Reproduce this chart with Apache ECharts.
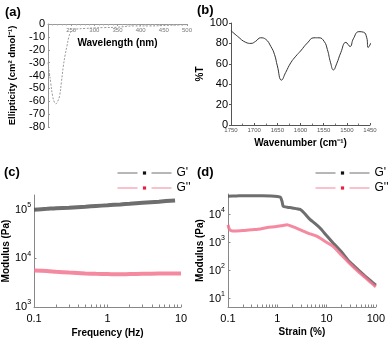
<!DOCTYPE html>
<html><head><meta charset="utf-8">
<script src="https://cdn.jsdelivr.net/npm/echarts@6/dist/echarts.min.js"></script>
<style>html,body{margin:0;padding:0;background:#fff}#c{width:388px;height:339px}</style>
</head><body><div id="c"></div>
<script>
// (a) CD spectrum
const aWavelength = [200, 203, 206, 210, 214, 217, 221, 225, 229, 233, 237, 241, 245, 248, 253, 260, 280, 300, 320, 350, 385, 420, 460, 500];
const aEllipticity = [-30, -38, -46, -56, -61, -62, -60, -56, -45, -33, -24, -17, -10, -7, -5, -4, -3.5, -3, -2.8, -2.5, -1.5, -1.5, -1, -0.5];
// (b) FTIR
const bWavenumber = [1750, 1736, 1718, 1707, 1697, 1686, 1675, 1664, 1656, 1650, 1641, 1632, 1621, 1610, 1600, 1585, 1571, 1560, 1549, 1542, 1535, 1529, 1522, 1513, 1502, 1493, 1486, 1474, 1464, 1457, 1454, 1448];
const bTransmittance = [92.5, 87, 81, 80, 82, 85.5, 84, 77, 69, 58, 44, 51.5, 61, 67.5, 72.5, 80.5, 85.5, 85.5, 82, 74, 61, 54, 60, 71, 81, 77, 84.5, 91.5, 91, 85.5, 76, 80.5];
// (c) frequency sweep
const cFrequency = [0.1, 0.15, 0.2, 0.3, 0.5, 0.7, 1, 1.5, 2, 3, 5, 8.3];
const cGp = [1.0e5, 1.04e5, 1.07e5, 1.1e5, 1.15e5, 1.19e5, 1.23e5, 1.28e5, 1.32e5, 1.38e5, 1.46e5, 1.55e5];
const cFrequency2 = [0.1, 0.15, 0.2, 0.3, 0.5, 0.7, 1, 1.5, 2, 3, 5, 10];
const cGpp = [5.6e3, 5.5e3, 5.3e3, 5.1e3, 4.9e3, 4.8e3, 4.75e3, 4.7e3, 4.75e3, 4.8e3, 4.85e3, 4.9e3];
// (d) strain sweep
const dStrainGp = [0.1, 0.15, 0.22, 0.33, 0.5, 0.75, 1.0, 1.16, 1.25, 1.32, 1.6, 2.0, 2.9, 3.6, 4.6, 5.8, 7.3, 10, 13.6, 20, 29, 42, 63, 80, 100];
const dGp = [4.6e4, 4.7e4, 4.8e4, 4.8e4, 4.8e4, 4.7e4, 4.5e4, 4.2e4, 3.0e4, 2.0e4, 1.85e4, 1.75e4, 1.55e4, 1.1e4, 6.8e3, 4.9e3, 3.4e3, 1.8e3, 980, 470, 210, 115, 60, 42, 30];
const dStrainGpp = [0.1, 0.105, 0.115, 0.14, 0.2, 0.3, 0.45, 0.63, 0.9, 1.2, 1.58, 2.0, 2.9, 4.2, 6.3, 9.4, 13.6, 20, 29, 42, 63, 80, 100];
const dGpp = [4.3e3, 3.2e3, 2.7e3, 2.6e3, 2.7e3, 2.9e3, 3.1e3, 3.5e3, 3.7e3, 4.0e3, 4.4e3, 3.8e3, 2.9e3, 2.2e3, 1.7e3, 1.1e3, 740, 360, 185, 100, 54, 37, 26];
// log-axis tick positions
const cFreqTicks = [0.1,0.2,0.3,0.4,0.5,0.6,0.7,0.8,0.9,1,2,3,4,5,6,7,8,9,10];
const dStrainTicks = [0.1,0.2,0.3,0.4,0.5,0.6,0.7,0.8,0.9,1,2,3,4,5,6,7,8,9,10,20,30,40,50,60,70,80,90,100];
const cModTicks = [1e3, 1e4, 1e5];
const dModTicks = [1e1, 1e2, 1e3, 1e4];

const zip = (xs, ys) => xs.map((x, i) => [x, ys[i]]);
const FF = '"Liberation Sans", Arial, sans-serif';
const logY = v => { const l = Math.log10(v), e = Math.round(l); if (Math.abs(l - e) > 1e-6) return ''; return '{b|10}{s|' + e + '}'; };
const logX = v => { const l = Math.log10(v), e = Math.round(l); if (Math.abs(l - e) > 1e-6) return ''; return String(Number(Math.pow(10, e).toPrecision(3))); };
const richY = { b: { fontSize: 11, fontFamily: FF, color: '#000', lineHeight: 16 }, s: { fontSize: 7, fontFamily: FF, color: '#000', lineHeight: 6, verticalAlign: 'top' } };
const nameStyle = { fontWeight: 'bold', fontSize: 10, color: '#000', fontFamily: FF };
const gpCol = '#555555', gppCol = '#f2748f';
const legendText = { fontSize: 12, color: '#000', fontFamily: FF, lineHeight: 14 };
const legData = [
  { name: "G'", itemStyle: { color: '#111', borderWidth: 0 }, lineStyle: { color: '#555', width: 1, type: [20, 14] } },
  { name: "G''", itemStyle: { color: '#e8203f', borderWidth: 0 }, lineStyle: { color: '#f0708c', width: 1, type: [20, 14] } }
];

const chart = echarts.init(document.getElementById('c'), null, { renderer: 'canvas' });
chart.setOption({
  animation: false,
  textStyle: { fontFamily: FF },
  grid: [
    { left: 48, top: 24, width: 139, height: 103 },
    { left: 231, top: 23, width: 139, height: 102 },
    { left: 31, top: 195, width: 150, height: 112 },
    { left: 228, top: 194, width: 150, height: 113 }
  ],
  xAxis: [
    { gridIndex: 0, type: 'value', position: 'top', min: 200, max: 500, interval: 50,
      axisLine: { lineStyle: { color: '#999' } }, axisTick: { inside: true, length: 2, lineStyle: { color: '#999' } },
      minorTick: { show: true, splitNumber: 5, length: 1.5, lineStyle: { color: '#aaa' } },
      axisLabel: { inside: true, fontSize: 6, color: '#777', margin: 3, showMinLabel: false },
      splitLine: { show: false },
      name: 'Wavelength (nm)', nameLocation: 'middle', nameGap: -24, nameTextStyle: nameStyle },
    { gridIndex: 1, type: 'value', inverse: true, min: 1450, max: 1750, interval: 50,
      axisLine: { lineStyle: { color: '#555' } }, axisTick: { inside: true, length: 2, lineStyle: { color: '#555' } },
      minorTick: { show: true, splitNumber: 2, length: 1.5, lineStyle: { color: '#777' } },
      axisLabel: { fontSize: 6, color: '#555', margin: 2, formatter: v => String(v) },
      splitLine: { show: false },
      name: 'Wavenumber (cm⁻¹)', nameLocation: 'middle', nameGap: 13, nameTextStyle: nameStyle },
    { gridIndex: 2, type: 'log', logBase: 10, min: 0.1, max: 10,
      axisLine: { lineStyle: { color: '#888' } },
      axisTick: { inside: true, length: 2.5, customValues: cFreqTicks, lineStyle: { color: '#888' } },
      axisLabel: { fontSize: 11, color: '#000', margin: 6, formatter: logX },
      splitLine: { show: false },
      name: 'Frequency (Hz)', nameLocation: 'middle', nameGap: 21, nameTextStyle: nameStyle },
    { gridIndex: 3, type: 'log', logBase: 10, min: 0.1, max: 100,
      axisLine: { lineStyle: { color: '#888' } },
      axisTick: { inside: true, length: 2.5, customValues: dStrainTicks, lineStyle: { color: '#888' } },
      axisLabel: { fontSize: 11, color: '#000', margin: 6, formatter: logX },
      splitLine: { show: false },
      name: 'Strain (%)', nameLocation: 'middle', nameGap: 20, nameTextStyle: nameStyle }
  ],
  yAxis: [
    { gridIndex: 0, type: 'value', min: -80, max: 0, interval: 10,
      axisLine: { show: true, lineStyle: { color: '#999' } }, axisTick: { show: true, inside: true, length: 2, lineStyle: { color: '#999' } },
      axisLabel: { fontSize: 11, color: '#000', margin: 3 }, splitLine: { show: false },
      name: 'Ellipticity (cm² dmol⁻¹)', nameLocation: 'middle', nameRotate: 90, nameGap: 31, nameTextStyle: Object.assign({}, nameStyle, { fontSize: 9.5 }) },
    { gridIndex: 1, type: 'value', min: 0, max: 100, interval: 20,
      axisLine: { show: true, lineStyle: { color: '#555' } }, axisTick: { show: true, length: 2, lineStyle: { color: '#555' } },
      axisLabel: { fontSize: 11, color: '#000', margin: 3 }, splitLine: { show: false },
      name: '%T', nameLocation: 'middle', nameRotate: 90, nameGap: 19, nameTextStyle: nameStyle },
    { gridIndex: 2, type: 'log', logBase: 10, min: 1000, max: 200000,
      axisLine: { show: true, lineStyle: { color: '#888' } },
      axisTick: { show: true, inside: true, length: 2.5, customValues: cModTicks, lineStyle: { color: '#888' } },
      axisLabel: { margin: 3, formatter: logY, rich: richY }, splitLine: { show: false },
      name: 'Modulus (Pa)', nameLocation: 'middle', nameRotate: 90, nameGap: 16, nameTextStyle: nameStyle },
    { gridIndex: 3, type: 'log', logBase: 10, min: 5, max: 55000,
      axisLine: { show: true, lineStyle: { color: '#888' } },
      axisTick: { show: true, inside: true, length: 2.5, customValues: dModTicks, lineStyle: { color: '#888' } },
      axisLabel: { margin: 3, formatter: logY, rich: richY }, splitLine: { show: false },
      name: 'Modulus (Pa)', nameLocation: 'middle', nameRotate: 90, nameGap: 17, nameTextStyle: nameStyle }
  ],
  legend: [
    { left: 117, top: 166, orient: 'vertical', itemWidth: 54, itemHeight: 4, itemGap: 1, padding: 0,
      textStyle: legendText, data: legData },
    { left: 315, top: 166, orient: 'vertical', itemWidth: 54, itemHeight: 4, itemGap: 1, padding: 0,
      textStyle: legendText, data: legData }
  ],
  graphic: [
    { type: 'text', left: 5, top: 6, style: { text: '(a)', font: 'bold 13px ' + FF, fill: '#000' } },
    { type: 'text', left: 197, top: 4, style: { text: '(b)', font: 'bold 13px ' + FF, fill: '#000' } },
    { type: 'text', left: 4, top: 166, style: { text: '(c)', font: 'bold 13px ' + FF, fill: '#000' } },
    { type: 'text', left: 197, top: 166, style: { text: '(d)', font: 'bold 13px ' + FF, fill: '#000' } }
  ],
  series: [
    { type: 'line', xAxisIndex: 0, yAxisIndex: 0, data: zip(aWavelength, aEllipticity), showSymbol: false, smooth: 0.4,
      lineStyle: { color: '#999', width: 1, type: [2, 1.5] } },
    { type: 'line', xAxisIndex: 1, yAxisIndex: 1, data: zip(bWavenumber, bTransmittance), showSymbol: false, smooth: 0.5,
      lineStyle: { color: '#333', width: 1 } },
    { name: "G'", type: 'line', xAxisIndex: 2, yAxisIndex: 2, data: zip(cFrequency, cGp), symbol: 'rect', showSymbol: false, smooth: 0.3,
      itemStyle: { color: gpCol, borderWidth: 0 }, lineStyle: { color: gpCol, width: 4, opacity: 0.85 } },
    { name: "G''", type: 'line', xAxisIndex: 2, yAxisIndex: 2, data: zip(cFrequency2, cGpp), symbol: 'rect', showSymbol: false, smooth: 0.3,
      itemStyle: { color: gppCol, borderWidth: 0 }, lineStyle: { color: gppCol, width: 4, opacity: 0.85 } },
    { name: "G'", type: 'line', xAxisIndex: 3, yAxisIndex: 3, data: zip(dStrainGp, dGp), symbol: 'rect', showSymbol: false, smooth: 0.2,
      itemStyle: { color: gpCol, borderWidth: 0 }, lineStyle: { color: gpCol, width: 3, opacity: 0.85 } },
    { name: "G''", type: 'line', xAxisIndex: 3, yAxisIndex: 3, data: zip(dStrainGpp, dGpp), symbol: 'rect', showSymbol: false, smooth: 0.2,
      itemStyle: { color: gppCol, borderWidth: 0 }, lineStyle: { color: gppCol, width: 3, opacity: 0.85 } }
  ]
});
</script></body></html>
